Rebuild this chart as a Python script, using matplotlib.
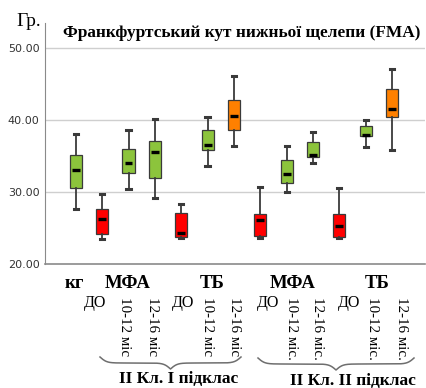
import numpy as np
import matplotlib.pyplot as plt

# box plot summary per group: whisker low, Q1, median, Q3, whisker high
groups = ["КГ", "МФА ДО", "МФА 10-12", "МФА 12-16", "ТБ ДО", "ТБ 10-12", "ТБ 12-16",
          "МФА ДО", "МФА 10-12", "МФА 12-16", "ТБ ДО", "ТБ 10-12", "ТБ 12-16"]
whislo = [27.6, 23.5, 30.4, 29.2, 23.6, 33.6, 36.4, 23.6, 30.0, 34.1, 23.6, 36.2, 35.9]
q1 = [30.5, 24.2, 32.6, 32.0, 23.7, 35.8, 38.6, 23.9, 31.2, 34.9, 23.8, 37.8, 40.5]
med = [33.0, 26.2, 34.0, 35.5, 24.3, 36.5, 40.6, 26.1, 32.5, 35.2, 25.3, 38.0, 41.6]
q3 = [35.2, 27.6, 36.0, 37.1, 27.1, 38.6, 42.8, 26.9, 34.4, 36.9, 26.9, 39.2, 44.3]
whishi = [38.1, 29.7, 38.6, 40.1, 28.4, 40.4, 46.1, 30.7, 36.4, 38.4, 30.5, 40.0, 47.1]
kind = ["g", "r", "g", "g", "r", "g", "o", "r", "g", "g", "r", "g", "o"]

palette = {"g": "#8cc43c", "r": "#ff0000", "o": "#ff8000"}
serif = "Liberation Serif"

W, H = 427, 388
fig = plt.figure(figsize=(W / 100, H / 100), dpi=100)
ax = fig.add_axes([45 / W, 1 - 264 / H, 380 / W, 241 / H])

stats = []
for i in range(len(groups)):
    stats.append({"whislo": whislo[i], "q1": q1[i], "med": med[i],
                  "q3": q3[i], "whishi": whishi[i], "fliers": []})

pos = np.arange(len(groups))
bp = ax.bxp(stats, positions=pos, widths=0.46, patch_artist=True,
            showfliers=False, capwidths=0.16,
            boxprops=dict(linewidth=0.9, edgecolor="#3a3a3a"),
            whiskerprops=dict(color="#3a3a3a", linewidth=1.3),
            capprops=dict(color="#3a3a3a", linewidth=2.2),
            medianprops=dict(color="black", linewidth=2.4))
for patch, k in zip(bp["boxes"], kind):
    patch.set_facecolor(palette[k])
# shorter, thicker median dashes
for m in bp["medians"]:
    xd = m.get_xdata()
    c = (xd[0] + xd[1]) / 2
    m.set_xdata([c - 0.15, c + 0.15])

ax.set_xlim(-1.17, 13.25)
ax.set_ylim(20, 53.5)
ax.set_yticks([20, 30, 40, 50])
ax.set_yticklabels(["20.00", "30.00", "40.00", "50.00"], fontsize=8, color="#333333")
ax.tick_params(axis="y", length=0, pad=4)
ax.set_xticks([])
for y in [30, 40, 50]:
    ax.axhline(y, color="#cfcfcf", linewidth=1, zorder=0)
for s in ["top", "right"]:
    ax.spines[s].set_visible(False)
ax.spines["left"].set_color("#8a8a8a")
ax.spines["bottom"].set_color("#8a8a8a")
ax.spines["bottom"].set_linewidth(1.2)

# overlay in pixel coordinates for the annotation texts
ov = fig.add_axes([0, 0, 1, 1], facecolor="none")
ov.set_xlim(0, W)
ov.set_ylim(H, 0)
ov.axis("off")

ov.text(16, 22, "Гр.", fontsize=14, family=serif, va="center", ha="left")
ov.text(242, 33, "Франкфуртський кут нижньої щелепи (FMA)", fontsize=12.4,
        family=serif, weight="bold", ha="center", va="center")

heads = [(74, "кг"), (128, "МФА"), (212, "ТБ"), (293, "МФА"), (377, "ТБ")]
for x, t in heads:
    ov.text(x, 283, t, fontsize=13.5, family=serif, weight="bold", ha="center", va="center")

do_x = [95, 183, 268, 349]
for x in do_x:
    ov.text(x, 303, "ДО", fontsize=11.5, family=serif, ha="center", va="center")

month_labels = [(125, "10-12 міс"), (153, "12-16 міс"), (208, "10-12 міс"), (235, "12-16 міс"),
                (292, "10-12 міс."), (318, "12-16 міс."), (373, "10-12 міс."), (402, "12-16 міс.")]
for x, t in month_labels:
    ov.text(x, 297, t, fontsize=10.8, family=serif, rotation=270, ha="center", va="top")


def brace(x0, x1, ytop, depth, beta=0.3):
    n = 301
    xs = np.linspace(x0, x1, n)
    half = xs[: n // 2 + 1]
    yh = 1 / (1 + np.exp(-beta * (half - half[0]))) + 1 / (1 + np.exp(-beta * (half - half[-1])))
    yy = np.concatenate([yh, yh[-2::-1]])
    yy = (yy - yy.min()) / (yy.max() - yy.min())
    ov.plot(xs, ytop + yy * depth, color="#6e6e6e", linewidth=1.1)


brace(100, 241, 357, 12)
brace(258, 414, 358, 12)

ov.text(179, 379, "II Кл. I підклас", fontsize=12.5, family=serif, weight="bold",
        ha="center", va="center")
ov.text(353, 381, "II Кл. II підклас", fontsize=12.5, family=serif, weight="bold",
        ha="center", va="center")

fig.savefig("out.png", dpi=100)
